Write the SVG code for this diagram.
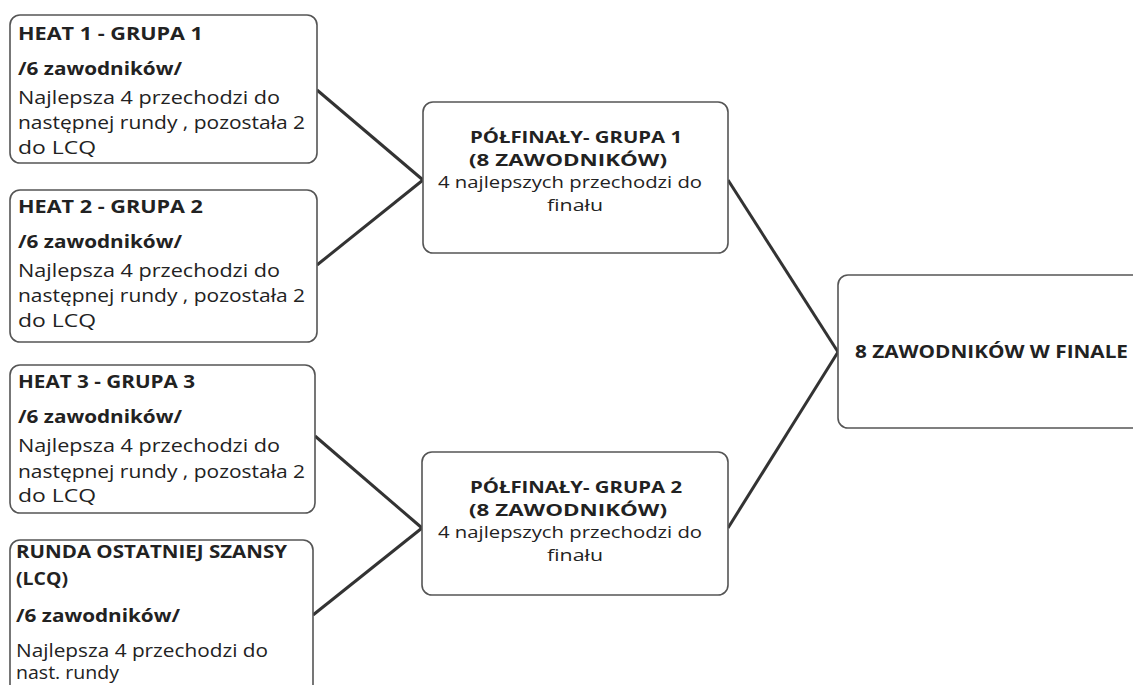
<svg xmlns="http://www.w3.org/2000/svg" width="1133" height="685" viewBox="0 0 1133 685">
<style>
.box{fill:#fff;stroke:#555;stroke-width:1.6}
.t{font-family:"Open Sans","Liberation Sans",sans-serif;font-size:18px;fill:#222}
.s{font-size:16.5px}
.b{font-weight:bold}
.m{text-anchor:middle}
.c{stroke:#333;stroke-width:3;fill:none}
</style>
<rect width="1133" height="685" fill="#fff"/>
<g id="connectors">
<line class="c" x1="317" y1="90" x2="423" y2="180"/>
<line class="c" x1="317" y1="265" x2="423" y2="180"/>
<line class="c" x1="315" y1="436" x2="422" y2="528"/>
<line class="c" x1="313" y1="615" x2="422" y2="528"/>
<line class="c" x1="728" y1="180" x2="838" y2="352"/>
<line class="c" x1="728" y1="528" x2="838" y2="352"/>
</g>
<g id="heat1">
<rect class="box" x="10" y="15" width="307" height="148" rx="10"/>
<text class="t b" x="18" y="40" textLength="185" lengthAdjust="spacingAndGlyphs">HEAT 1 - GRUPA  1</text>
<text class="t b" x="18" y="75" font-size="19" textLength="164" lengthAdjust="spacingAndGlyphs">/6 zawodników/</text>
<text class="t" x="18" y="104" textLength="262" lengthAdjust="spacingAndGlyphs">Najlepsza  4  przechodzi do</text>
<text class="t" x="18" y="129" textLength="287" lengthAdjust="spacingAndGlyphs">następnej rundy , pozostała 2</text>
<text class="t" x="18" y="154" textLength="78" lengthAdjust="spacingAndGlyphs">do  LCQ</text>
</g>
<g id="heat2">
<rect class="box" x="10" y="190" width="307" height="152" rx="10"/>
<text class="t b" x="18" y="213" textLength="185" lengthAdjust="spacingAndGlyphs">HEAT 2 - GRUPA  2</text>
<text class="t b" x="18" y="248" font-size="19" textLength="164" lengthAdjust="spacingAndGlyphs">/6 zawodników/</text>
<text class="t" x="18" y="277" textLength="262" lengthAdjust="spacingAndGlyphs">Najlepsza  4  przechodzi do</text>
<text class="t" x="18" y="302" textLength="287" lengthAdjust="spacingAndGlyphs">następnej rundy , pozostała 2</text>
<text class="t" x="18" y="327" textLength="78" lengthAdjust="spacingAndGlyphs">do  LCQ</text>
</g>
<g id="heat3">
<rect class="box" x="10" y="365" width="305" height="148" rx="10"/>
<text class="t b" x="18" y="388" textLength="177" lengthAdjust="spacingAndGlyphs">HEAT 3 - GRUPA 3</text>
<text class="t b" x="18" y="423" font-size="19" textLength="164" lengthAdjust="spacingAndGlyphs">/6 zawodników/</text>
<text class="t" x="18" y="452" textLength="262" lengthAdjust="spacingAndGlyphs">Najlepsza  4  przechodzi do</text>
<text class="t" x="18" y="478" textLength="287" lengthAdjust="spacingAndGlyphs">następnej rundy , pozostała 2</text>
<text class="t" x="18" y="502" textLength="78" lengthAdjust="spacingAndGlyphs">do  LCQ</text>
</g>
<g id="lcq">
<rect class="box" x="10" y="540" width="303" height="170" rx="10"/>
<text class="t b" x="16" y="558" textLength="271" lengthAdjust="spacingAndGlyphs">RUNDA  OSTATNIEJ SZANSY</text>
<text class="t b" x="16" y="585" textLength="52" lengthAdjust="spacingAndGlyphs">(LCQ)</text>
<text class="t b" x="16" y="622" font-size="19" textLength="164" lengthAdjust="spacingAndGlyphs">/6 zawodników/</text>
<text class="t" x="16" y="657" textLength="252" lengthAdjust="spacingAndGlyphs">Najlepsza 4 przechodzi do</text>
<text class="t" x="16" y="679" textLength="103" lengthAdjust="spacingAndGlyphs">nast. rundy</text>
</g>
<g id="semi1">
<rect class="box" x="423" y="102" width="305" height="151" rx="10"/>
<text class="t s b m" x="576" y="143" textLength="212" lengthAdjust="spacingAndGlyphs">PÓŁFINAŁY- GRUPA 1</text>
<text class="t s b m" x="568" y="165.5" textLength="198" lengthAdjust="spacingAndGlyphs">(8  ZAWODNIKÓW)</text>
<text class="t s m" x="570" y="188" textLength="264" lengthAdjust="spacingAndGlyphs">4 najlepszych przechodzi do</text>
<text class="t s m" x="575" y="210.5" textLength="56" lengthAdjust="spacingAndGlyphs">finału</text>
</g>
<g id="semi2">
<rect class="box" x="422" y="452" width="306" height="143" rx="10"/>
<text class="t s b m" x="576" y="493" textLength="212" lengthAdjust="spacingAndGlyphs">PÓŁFINAŁY- GRUPA 2</text>
<text class="t s b m" x="568" y="515.5" textLength="198" lengthAdjust="spacingAndGlyphs">(8  ZAWODNIKÓW)</text>
<text class="t s m" x="570" y="538" textLength="264" lengthAdjust="spacingAndGlyphs">4 najlepszych przechodzi do</text>
<text class="t s m" x="575" y="560.5" textLength="56" lengthAdjust="spacingAndGlyphs">finału</text>
</g>
<g id="final">
<rect class="box" x="838" y="275" width="320" height="153" rx="10"/>
<text class="t b" x="855" y="358" font-size="19" textLength="273" lengthAdjust="spacingAndGlyphs">8 ZAWODNIKÓW W FINALE</text>
</g>
</svg>
